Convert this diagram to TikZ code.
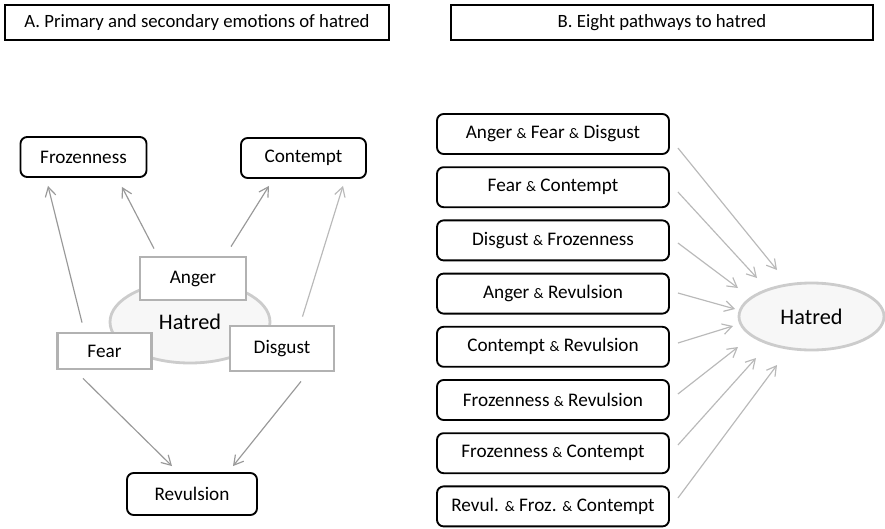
\documentclass[tikz,border=0pt]{standalone}
\usepackage{fontspec}
\setmainfont{Carlito}
\usetikzlibrary{arrows.meta,calc,shapes.geometric}
\newcommand{\andsym}{{\fontsize{12.5pt}{12pt}\selectfont\&}}

\begin{document}
\begin{tikzpicture}[x=0.03cm,y=-0.03cm,
    titlebox/.style={draw,line width=1.5pt,inner sep=0pt,minimum height=1.05cm,
      font=\fontsize{16pt}{18pt}\selectfont},
    emobox/.style={draw,line width=1.6pt,rounded corners=2mm,fill=white,inner sep=0pt,
      minimum height=1.2cm,font=\fontsize{16.4pt}{18pt}\selectfont},
    basebox/.style={draw=gray!60,line width=2.4pt,fill=white,inner sep=0pt,
      font=\fontsize{16.4pt}{18pt}\selectfont},
    hatbox/.style={ellipse,draw=gray!40,line width=2.4pt,fill=gray!6,inner sep=0pt,
      font=\fontsize{19pt}{20pt}\selectfont},
    arr/.style={draw=gray!80,line width=1pt,-{Straight Barb[length=2.8mm,width=3.2mm]}},
    arrlight/.style={arr,draw=gray!55}]
  \useasboundingbox (0,0) rectangle (885,529);

  % Titel der beiden Teile
  \node[titlebox,minimum width=11.52cm] (titleA) at (197,22.5) {A. Primary and secondary emotions of hatred};
  \node[titlebox,minimum width=12.66cm] (titleB) at (662,22.5) {B. Eight pathways to hatred};

  % Teil A
  \node[hatbox,minimum width=4.8cm,minimum height=2.46cm] (hatredL) at (190,322) {Hatred};
  \node[basebox,minimum width=3.18cm,minimum height=1.29cm] (anger) at (193,278.5) {Anger};
  \node[basebox,minimum width=2.82cm,minimum height=1.08cm] (fear) at (104.5,351) {Fear};
  \node[basebox,minimum width=3.12cm,minimum height=1.35cm] (disgust) at (282,348.5) {Disgust};

  \node[emobox,minimum width=3.78cm] (froz) at (83.5,157) {Frozenness};
  \node[emobox,minimum width=3.75cm] (contempt) at (303.5,158) {Contempt};
  \node[emobox,minimum width=3.9cm,minimum height=1.26cm] (revul) at (192,494) {Revulsion};

  \draw[arr] ($(fear.north)+(-22.5,-9)$) -- ($(froz.south)+(-35.5,8)$);
  \draw[arr] ($(anger.north)+(-39,-7)$) -- ($(froz.south)+(38.5,9)$);
  \draw[arr] ($(anger.north)+(38,-9)$) -- ($(contempt.south)+(-34.5,7)$);
  \draw[arrlight] ($(disgust.north)+(20.5,-8)$) -- ($(contempt.south)+(39.5,7)$);
  \draw[arr] ($(fear.south)+(-21.5,8)$) -- ($(revul.north)+(-20,-6)$);
  \draw[arr] ($(disgust.south)+(19,9)$) -- ($(revul.north)+(41,-6)$);

  % Teil B
  \node[hatbox,minimum width=4.35cm,minimum height=2.01cm] (hatredR) at (811.5,316.5) {Hatred};

  \node[emobox,minimum width=6.96cm] (p1) at (553,134) {Anger \andsym{} Fear \andsym{} Disgust};
  \node[emobox,minimum width=6.96cm] (p2) at (553,187.2) {Fear \andsym{} Contempt};
  \node[emobox,minimum width=6.96cm] (p3) at (553,240.4) {Disgust \andsym{} Frozenness};
  \node[emobox,minimum width=6.96cm] (p4) at (553,293.6) {Anger \andsym{} Revulsion};
  \node[emobox,minimum width=6.96cm] (p5) at (553,346.8) {Contempt \andsym{} Revulsion};
  \node[emobox,minimum width=6.96cm] (p6) at (553,400) {Frozenness \andsym{} Revulsion};
  \node[emobox,minimum width=6.96cm] (p7) at (553,453.2) {Frozenness \andsym{} Contempt};
  \node[emobox,minimum width=6.96cm] (p8) at (553,506.4) {Revul. \andsym{} Froz. \andsym{} Contempt};

  \foreach \i/\sy/\ex/\ey in {1/14/-34.5/-46.5, 2/4.8/-54.5/-38.5, 3/2.6/-73.5/-28.5,
      4/-0.6/-76.5/-7.5, 5/-3.8/-78.5/9.5, 6/-6/-73.5/30.5, 7/-8.2/-55.5/41.5, 8/-8.4/-34.5/48.5}
    \draw[arrlight] ($(p\i.east)+(8,\sy)$) -- ($(hatredR.center)+(\ex,\ey)$);

\end{tikzpicture}
\end{document}
